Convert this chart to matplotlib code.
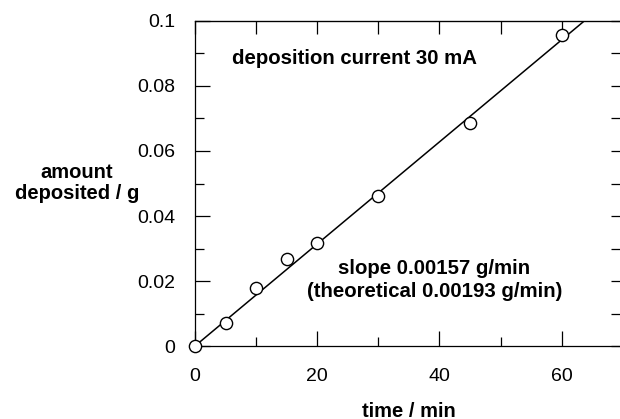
import numpy as np
import matplotlib.pyplot as plt
from matplotlib.ticker import MultipleLocator

plt.rcParams['font.family'] = ['Liberation Sans', 'DejaVu Sans']

# measured points
time_min = [0, 5, 10, 15, 20, 30, 45, 60]
amount_g = [0.0, 0.0072, 0.0179, 0.0267, 0.0316, 0.0461, 0.0685, 0.0956]
slope = 0.00157  # g/min, fitted
x_ticks = [0, 20, 40, 60]
y_ticks = [0, 0.02, 0.04, 0.06, 0.08, 0.1]
y_ticklabels = ['0', '0.02', '0.04', '0.06', '0.08', '0.1']

fig = plt.figure(figsize=(6.2, 4.19), dpi=100)
ax = fig.add_axes([0.3145, 0.1742, 0.690, 0.7757])

fit_x = np.array([0, 70])
ax.plot(fit_x, slope*fit_x, color='black', lw=1.1, zorder=2)
ax.plot(time_min, amount_g, 'o', ms=8.8, mfc='white', mec='black', mew=1.0, zorder=3, clip_on=False)

ax.set_xlim(0, 70)
ax.set_ylim(0, 0.1)
ax.set_xticks(x_ticks)
ax.set_yticks(y_ticks)
ax.set_yticklabels(y_ticklabels)
ax.xaxis.set_minor_locator(MultipleLocator(10))
ax.yaxis.set_minor_locator(MultipleLocator(0.01))
ax.tick_params(which='major', direction='in', length=10.5, width=0.9, labelsize=14)
ax.tick_params(which='minor', direction='in', length=6.8, width=0.9)
ax.tick_params(axis='x', which='major', pad=16)
ax.tick_params(axis='y', which='major', pad=14)
for s in ax.spines.values():
    s.set_linewidth(0.9)

top = ax.secondary_xaxis('top')
top.set_xticks(np.arange(0, 71, 10))
top.tick_params(direction='in', length=9.5, width=0.9, labeltop=False)
right = ax.secondary_yaxis('right')
right.set_yticks(np.arange(0, 0.101, 0.01))
right.tick_params(direction='in', length=8.8, width=0.9, labelright=False)

ax.text(6.0, 0.0886, 'deposition current 30 mA', fontsize=14.7, fontweight='bold', va='center', ha='left')
ax.text(39.2, 0.0203, 'slope 0.00157 g/min\n(theoretical 0.00193 g/min)', fontsize=14.7,
        fontweight='bold', ha='center', va='center', multialignment='center', linespacing=1.3)

fig.text(77/620, 1 - 183/419, 'amount\ndeposited / g', fontsize=14.5, fontweight='bold',
         ha='center', va='center', multialignment='center', linespacing=1.1)
fig.text(409/620, 1 - 411/419, 'time / min', fontsize=14.5, fontweight='bold', ha='center', va='center')

fig.savefig('out.png', dpi=100)
